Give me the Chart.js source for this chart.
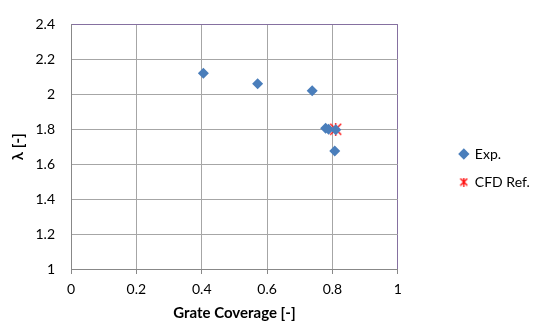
<!DOCTYPE html>
<html>
<head>
<script src="https://cdn.jsdelivr.net/npm/chart.js"></script>
<style>
  html, body { margin: 0; padding: 0; background: #fff; }
  #wrap { width: 534px; height: 322px; }
</style>
</head>
<body>
<div id="wrap"><canvas id="myChart" width="534" height="322"></canvas></div>
<script>
// Values
const expX = [0.405, 0.571, 0.738, 0.779, 0.788, 0.81, 0.807];
const expY = [2.12, 2.06, 2.02, 1.805, 1.8, 1.797, 1.675];
const cfdX = [0.81];
const cfdY = [1.8];
const xTicks = [0, 0.2, 0.4, 0.6, 0.8, 1];
const yTicks = [1, 1.2, 1.4, 1.6, 1.8, 2, 2.2, 2.4];

const FONT = "Lato, 'Open Sans', sans-serif";

// Excel-like star marker: an X with a vertical stroke
function starMarker(size, color) {
  const c = document.createElement("canvas");
  c.width = size;
  c.height = size;
  const g = c.getContext("2d");
  g.strokeStyle = color;
  g.lineWidth = 1.3;
  g.beginPath();
  g.moveTo(1, 1); g.lineTo(size - 1, size - 1);
  g.moveTo(size - 1, 1); g.lineTo(1, size - 1);
  g.moveTo(size / 2, 0); g.lineTo(size / 2, size);
  g.stroke();
  return c;
}
const star = starMarker(13, "#FF0000");
const starSmall = starMarker(9, "#FF0000");

const toPoints = (xs, ys) => xs.map((x, i) => ({ x: x, y: ys[i] }));

const ctx = document.getElementById("myChart").getContext("2d");
new Chart(ctx, {
  type: "scatter",
  data: {
    datasets: [
      {
        label: "Exp.",
        data: toPoints(expX, expY),
        pointStyle: "rectRot",
        pointRadius: 5.5,
        backgroundColor: "#4A7EBB",
        borderColor: "#4A7EBB",
        borderWidth: 0,
      },
      {
        label: "CFD Ref.",
        data: toPoints(cfdX, cfdY),
        pointStyle: star,
        pointRadius: 6,
        backgroundColor: "#FF0000",
        borderColor: "#FF0000",
      },
    ],
  },
  options: {
    responsive: false,
    animation: false,
    layout: { padding: { top: 14, left: 0, right: -1, bottom: 0 } },
    plugins: {
      tooltip: { enabled: false },
      legend: {
        position: "right",
        labels: {
          usePointStyle: true,
          boxWidth: 8,
          boxHeight: 8,
          padding: 14,
          color: "#000",
          font: { family: FONT, size: 14 },
          generateLabels: () => [
            { text: "Exp.", pointStyle: "rectRot", fillStyle: "#4A7EBB", strokeStyle: "#4A7EBB", lineWidth: 0, datasetIndex: 0 },
            { text: "CFD Ref.", pointStyle: starSmall, fillStyle: "#FF0000", strokeStyle: "#FF0000", lineWidth: 1, datasetIndex: 1 },
          ],
        },
      },
    },
    scales: {
      x: {
        type: "linear",
        min: 0,
        max: 1,
        afterBuildTicks: (axis) => { axis.ticks = xTicks.map((v) => ({ value: v })); },
        afterFit: (axis) => { axis.height = 53; },
        grid: {
          color: (c) => (c.tick && c.tick.value === 1 ? "#8570A0" : "#A6A6A6"),
          tickColor: "#888",
          tickLength: 5,
        },
        border: { color: "#888" },
        ticks: {
          color: "#000",
          padding: 7,
          font: { family: FONT, size: 14 },
          callback: (v) => String(v),
        },
        title: {
          display: true,
          text: "Grate Coverage [-]",
          color: "#000",
          padding: { top: 2, bottom: 0 },
          font: { family: FONT, size: 15, weight: "bold" },
        },
      },
      y: {
        type: "linear",
        min: 1,
        max: 2.4,
        afterBuildTicks: (axis) => { axis.ticks = yTicks.map((v) => ({ value: v })); },
        afterFit: (axis) => { axis.width = 71; },
        grid: {
          color: (c) => (c.tick && c.tick.value === 2.4 ? "#8570A0" : "#A6A6A6"),
          drawTicks: false,
        },
        border: { color: "#888" },
        ticks: {
          color: "#000",
          padding: 16,
          font: { family: FONT, size: 14 },
          callback: (v) => String(v),
        },
        title: {
          display: true,
          text: "λ [-]",
          color: "#000",
          padding: { top: 9, bottom: 0 },
          font: { family: FONT, size: 15, weight: "bold" },
        },
      },
      // empty spacer between the plot and the legend
      gap: {
        type: "linear",
        position: "right",
        min: 1,
        max: 2.4,
        afterFit: (axis) => { axis.width = 48; },
        grid: { display: false },
        border: { display: false },
        ticks: { display: false },
      },
    },
  },
});
</script>
</body>
</html>
